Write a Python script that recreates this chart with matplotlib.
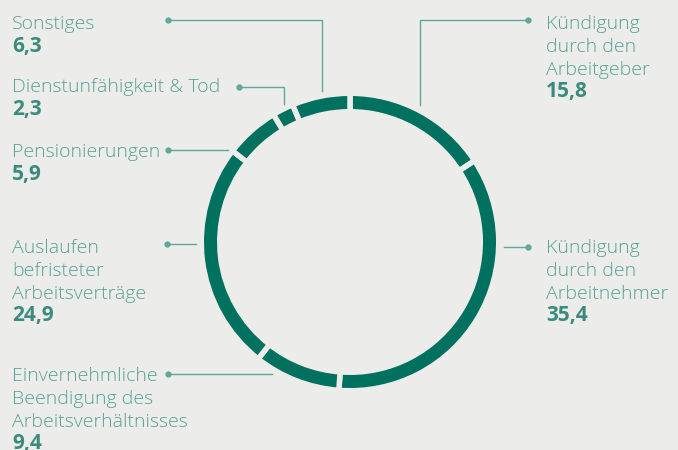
import matplotlib.pyplot as plt

# Gründe für die Beendigung (Anteile in %), im Uhrzeigersinn ab 12 Uhr
labels = [
    "Kündigung\ndurch den\nArbeitgeber",
    "Kündigung\ndurch den\nArbeitnehmer",
    "Einvernehmliche\nBeendigung des\nArbeitsverhältnisses",
    "Auslaufen\nbefristeter\nArbeitsverträge",
    "Pensionierungen",
    "Dienstunfähigkeit & Tod",
    "Sonstiges",
]
values = [15.8, 35.4, 9.4, 24.9, 5.9, 2.3, 6.3]
value_text = ["15,8", "35,4", "9,4", "24,9", "5,9", "2,3", "6,3"]

BG = "#ececea"
RING = "#00705f"
TXT = "#56a296"
NUM = "#3a8b7e"
LINE = "#5ea89c"

W, H = 678, 450
fig = plt.figure(figsize=(W / 100, H / 100), dpi=100, facecolor=BG)
ax = fig.add_axes([0, 0, 1, 1])
ax.set_facecolor(BG)

# Ring (Pixelkoordinaten, y nach oben)
cx, cy = 350, H - 242
r_out, ring_w, gap = 146, 13, 5.5
lw = gap * 72 / 100
ax.pie(values, colors=[RING] * len(values), startangle=90, counterclock=False,
       center=(cx, cy), radius=r_out + gap / 2, frame=True,
       wedgeprops=dict(width=ring_w + gap, edgecolor=BG, linewidth=lw))

# Beschriftungen: (x, Grundlinie der ersten Zeile in px von oben)
label_pos = [
    (546, 29),
    (546, 253),
    (12, 381),
    (12, 253),
    (12, 157),
    (12, 92),
    (12, 29),
]
step = 22.8
for lab, num, (x, y0) in zip(labels, value_text, label_pos):
    lines = lab.split("\n")
    for i, ln in enumerate(lines):
        ax.text(x, H - (y0 + i * step), ln, ha="left", va="baseline",
                fontsize=14, color=TXT, family="Open Sans", fontweight="light")
    ax.text(x, H - (y0 + len(lines) * step), num, ha="left", va="baseline",
            fontsize=15, color=NUM, family="Open Sans", fontweight="bold")

# Führungslinien: Punkt am Text -> Ring
leaders = [
    [(528, 20), (420, 20), (420, 105)],
    [(528, 247), (504, 247)],
    [(168, 374), (272, 374)],
    [(167, 244), (196, 244)],
    [(168, 150), (228, 150)],
    [(239, 87), (284, 87), (284, 104)],
    [(168, 20), (322, 20), (322, 91)],
]
for pts in leaders:
    xs = [p[0] for p in pts]
    ys = [H - p[1] for p in pts]
    ax.plot(xs, ys, color=LINE, lw=1.0, solid_joinstyle="miter")
    ax.plot(xs[0], ys[0], "o", color=LINE, ms=3.5)

ax.set_xlim(0, W)
ax.set_ylim(0, H)
ax.set_aspect("equal")
ax.axis("off")

fig.savefig("out.png", dpi=100, facecolor=BG)
